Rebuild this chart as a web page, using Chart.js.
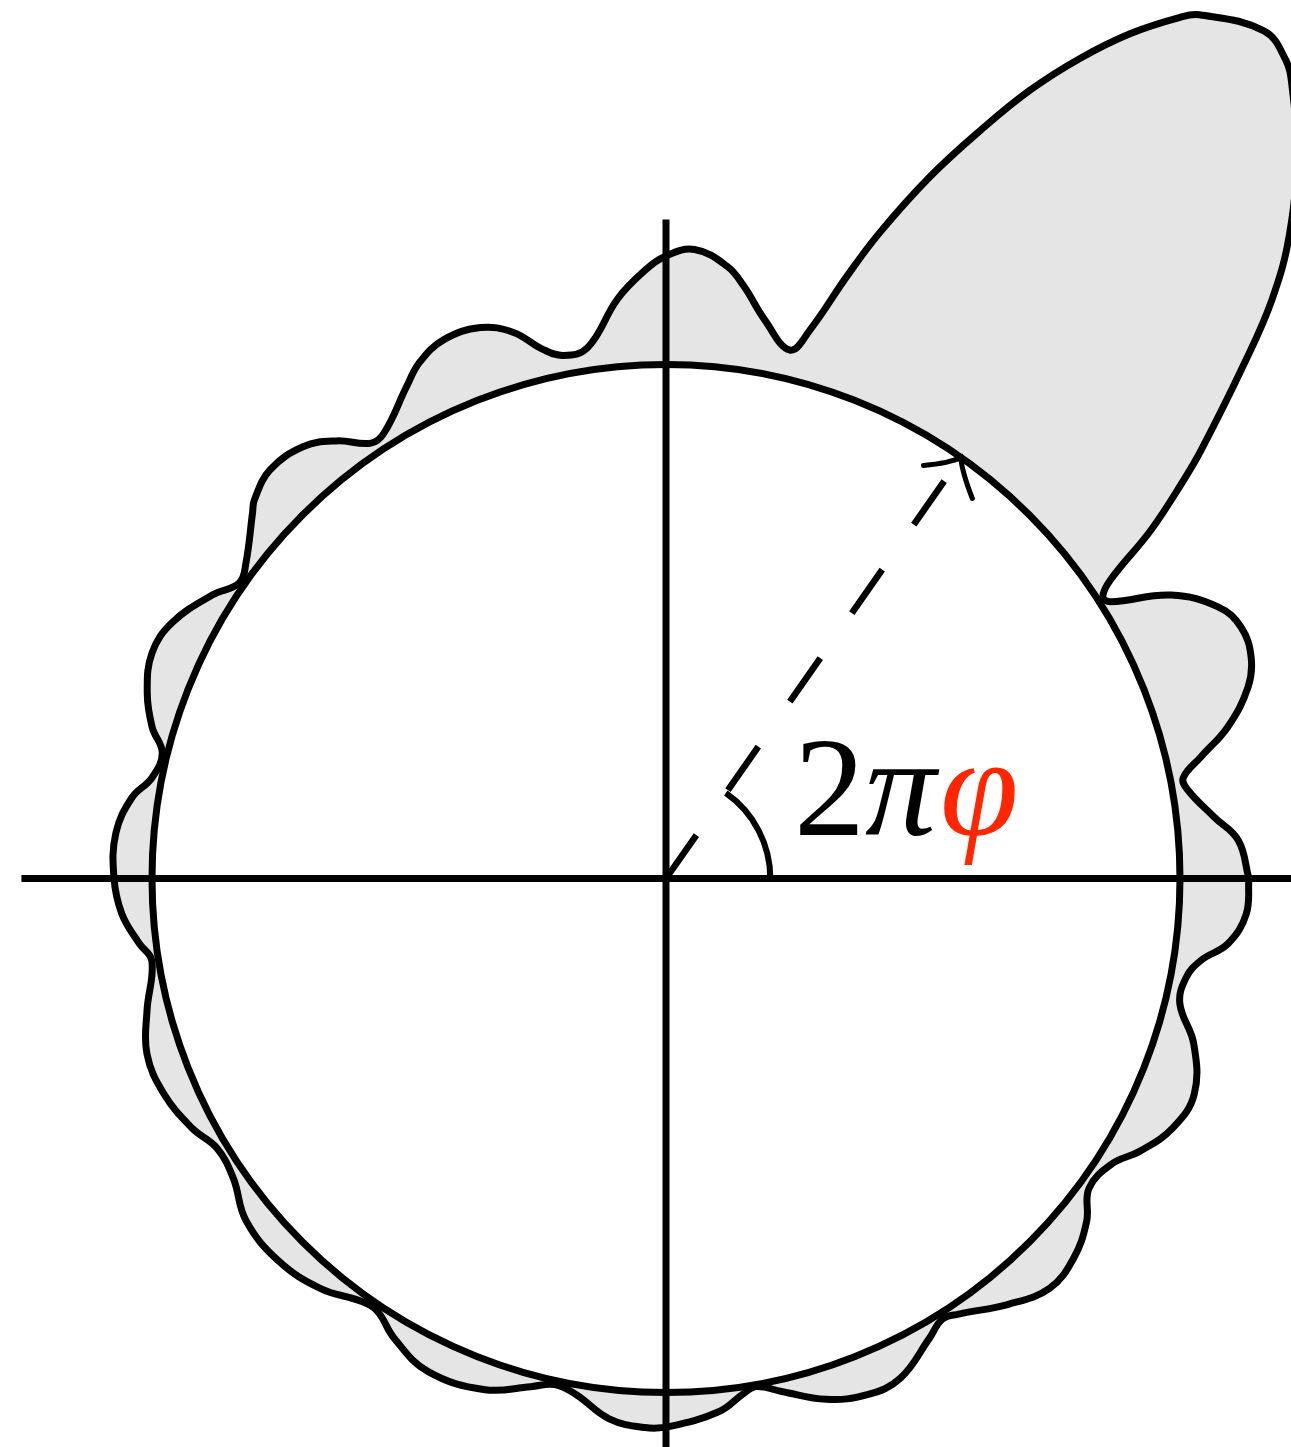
<!DOCTYPE html>
<html>
<head>
<meta charset="utf-8">
<title>2πφ</title>
<script src="https://cdn.jsdelivr.net/npm/chart.js@4/dist/chart.umd.min.js"></script>
<style>
  html, body { margin: 0; padding: 0; background: #fff; }
  canvas { display: block; }
</style>
</head>
<body>
<canvas id="chart" width="1291" height="1447"></canvas>
<script>
// outer curve in polar form: angle (deg, ccw from +x) and radius (unit circle = 1)
const curveAngles = [
    0, 3.8, 6.4, 9.6, 11.0, 12.8, 15.1, 18.2, 20.7, 23.6, 26.2, 29.3, 31.9, 32.8,
    33.9, 35.7, 37.6, 38.7, 41.6, 43.7, 46.0, 49.0, 51.7, 52.9, 54.8, 58.3, 59.2,
    61.2, 63.2, 65.2, 67.2, 69.4, 71.7, 73.3, 75.3, 76.8, 80.0, 82.5, 84.3, 87.4, 90.0, 92.2,
    94.8, 98.4, 101.1, 103.1, 105.6, 108.6, 112.4, 115.5, 117.8, 122.3, 124.1,
    127.0, 130.0, 134.1, 137.4, 138.5, 143.1, 145.3, 148.0, 152.6, 156.3, 160.3,
    163.6, 166.0, 168.9, 171.4, 175.3, 179.9, 183.7, 187.0, 189.1, 194.3, 198.7,
    203.2, 207.8, 211.0, 214.7, 219.2, 224.7, 229.9, 234.2, 236.3, 239.4, 244.2,
    250.5, 255.1, 257.6, 260.1, 264.0, 267.8, 270.4, 275.7, 278.6, 280.1, 282.7,
    287.1, 291.3, 295.1, 299.8, 302.1, 303.9, 308.8, 313.1, 317.0, 320.8, 323.8,
    327.4, 330.1, 333.8, 337.8, 342.6, 346.3, 349.2, 351.3, 353.4, 356.5, 360
];
const curveRadii = [
    1.134, 1.116, 1.073, 1.030, 1.025, 1.067, 1.132, 1.192, 1.217, 1.221, 1.197, 1.127, 1.019, 1.011,
    1.042, 1.162, 1.272, 1.335, 1.501, 1.631, 1.747, 1.870, 1.965, 1.998, 2.018, 1.975, 1.950,
    1.876, 1.788, 1.690, 1.579, 1.458, 1.323, 1.222, 1.103, 1.056, 1.104, 1.162, 1.197, 1.225, 1.211, 1.180,
    1.131, 1.044, 1.037, 1.057, 1.103, 1.131, 1.134, 1.113, 1.082, 1.026, 1.023,
    1.066, 1.097, 1.107, 1.088, 1.074, 1.022, 1.010, 1.041, 1.082, 1.092, 1.072,
    1.042, 1.010, 1.019, 1.051, 1.074, 1.074, 1.061, 1.033, 1.013, 1.042, 1.066,
    1.063, 1.042, 1.019, 1.024, 1.054, 1.059, 1.043, 1.014, 1.012, 1.039, 1.065,
    1.055, 1.023, 1.008, 1.019, 1.057, 1.069, 1.066, 1.042, 1.013, 1.004, 1.023,
    1.060, 1.078, 1.074, 1.031, 1.012, 1.021, 1.063, 1.092, 1.084, 1.056, 1.020,
    1.030, 1.064, 1.099, 1.110, 1.076, 1.029, 1.030, 1.053, 1.101, 1.131, 1.134
];
const circleRadius = [1];
const phaseAngle = 55;          // 2πφ, degrees
const angleMarkRadius = 0.203;
const axisExtentX = [-1.254, 1.3];
const axisExtentY = [-1.2, 1.282];

document.addEventListener("DOMContentLoaded", function () {
    const deg = Math.PI / 180;
    const toXY = (a, r) => ({ x: r * Math.cos(a * deg), y: r * Math.sin(a * deg) });

    const curvePoints = curveAngles.map((a, i) => toXY(a, curveRadii[i]));
    const arrowPoints = [toXY(phaseAngle, 0), toXY(phaseAngle, circleRadius[0])];

    // pixel size of one unit and where the origin sits
    const unitPx = 514;
    const originX = 666, originY = 878.5;
    const W = 1291, H = 1447;

    // arc for the angle, arrowhead and the 2πφ label
    const decorations = {
        id: 'decorations',
        afterDatasetsDraw(chart) {
            const ctx = chart.ctx;
            const xs = chart.scales.x, ys = chart.scales.y;
            const cx = xs.getPixelForValue(0), cy = ys.getPixelForValue(0);
            const unit = xs.getPixelForValue(1) - cx;
            const phi = phaseAngle * deg;

            ctx.save();
            ctx.strokeStyle = '#000';
            ctx.lineWidth = 6;
            ctx.beginPath();
            ctx.arc(cx, cy, angleMarkRadius * unit, -phi, 0);
            ctx.stroke();

            // open arrowhead at the tip of the dashed radius
            const tip = arrowPoints[1];
            ctx.translate(xs.getPixelForValue(tip.x), ys.getPixelForValue(tip.y));
            ctx.rotate(-phi);
            ctx.lineWidth = 5;
            ctx.lineCap = 'round';
            ctx.beginPath();
            ctx.moveTo(-28, -26);
            ctx.quadraticCurveTo(-11, -6, 0, 0);
            ctx.quadraticCurveTo(-11, 9, -27, 33);
            ctx.stroke();
            ctx.restore();

            // label
            ctx.save();
            ctx.textBaseline = 'alphabetic';
            ctx.textAlign = 'left';
            let x = xs.getPixelForValue(0.249);
            const y = ys.getPixelForValue(0.085);
            ctx.fillStyle = '#000';
            ctx.font = '142px "Liberation Serif"';
            ctx.fillText('2', x, y);
            x += ctx.measureText('2').width;
            ctx.font = 'italic 142px "Liberation Serif"';
            ctx.fillText('π', x, y);
            x += ctx.measureText('π').width + 4;
            ctx.fillStyle = '#ff2600';
            ctx.fillText('φ', x, y);
            ctx.restore();
        }
    };

    const ctx = document.getElementById("chart");
    const chart = new Chart(ctx, {
        type: 'scatter',
        data: {
            datasets: [
                {
                    // dashed radius
                    data: arrowPoints,
                    showLine: true,
                    borderColor: '#000',
                    borderWidth: 6.5,
                    borderDash: [53, 55],
                    borderCapStyle: 'butt',
                    pointRadius: 0,
                    order: 1
                },
                {
                    data: [{ x: axisExtentX[0], y: 0 }, { x: axisExtentX[1], y: 0 }],
                    showLine: true,
                    borderColor: '#000',
                    borderWidth: 7,
                    pointRadius: 0,
                    order: 2
                },
                {
                    data: [{ x: 0, y: axisExtentY[0] }, { x: 0, y: axisExtentY[1] }],
                    showLine: true,
                    borderColor: '#000',
                    borderWidth: 7,
                    pointRadius: 0,
                    order: 2
                },
                {
                    // unit circle, radius taken from the x scale
                    data: [{ x: 0, y: 0 }],
                    pointStyle: 'circle',
                    pointRadius: function (c) {
                        const s = c.chart.scales.x;
                        return s.getPixelForValue(circleRadius[0]) - s.getPixelForValue(0);
                    },
                    pointBackgroundColor: '#fff',
                    pointBorderColor: '#000',
                    pointBorderWidth: 7,
                    order: 3
                },
                {
                    data: curvePoints,
                    showLine: true,
                    fill: 'shape',
                    backgroundColor: '#e5e5e5',
                    borderColor: '#000',
                    borderWidth: 7,
                    borderJoinStyle: 'round',
                    tension: 0.4,
                    pointRadius: 0,
                    order: 4
                }
            ]
        },
        options: {
            responsive: false,
            animation: false,
            events: [],
            layout: { padding: 0 },
            plugins: {
                legend: { display: false },
                tooltip: { enabled: false }
            },
            scales: {
                x: {
                    type: 'linear',
                    display: false,
                    min: -originX / unitPx,
                    max: (W - originX) / unitPx
                },
                y: {
                    type: 'linear',
                    display: false,
                    min: -(H - originY) / unitPx,
                    max: originY / unitPx
                }
            }
        },
        plugins: [decorations]
    });
});
</script>
</body>
</html>
